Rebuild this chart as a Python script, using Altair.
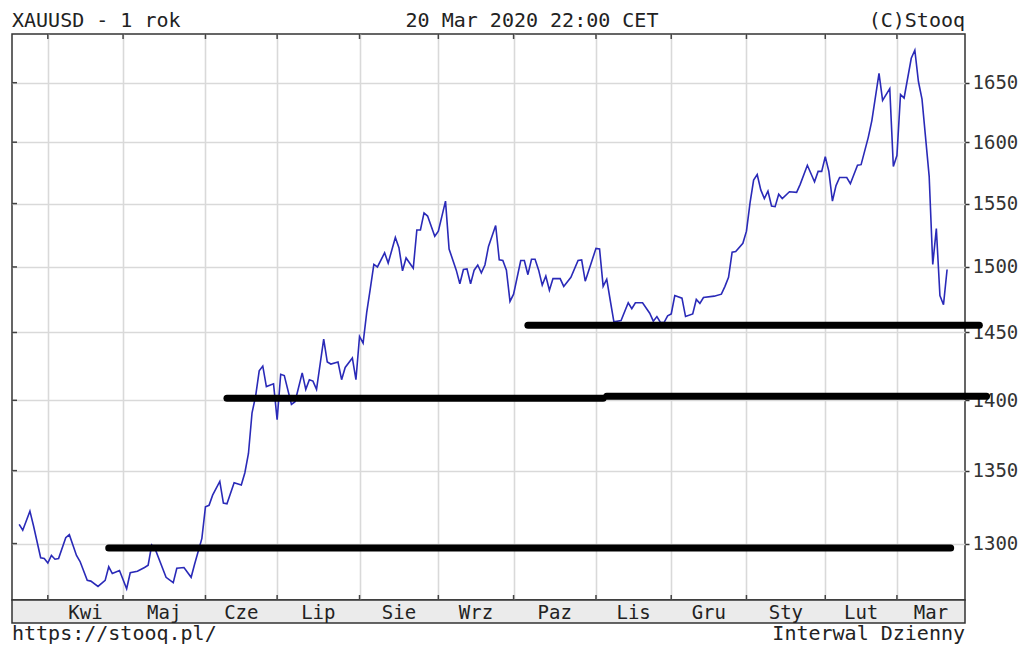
import altair as alt
import pandas as pd
import numpy as np

# ---- data (XAUUSD daily close, vertices of the line) ----
daty = [
    "2019-03-20", "2019-03-21", "2019-03-25", "2019-03-26", "2019-03-28", "2019-03-29",
    "2019-04-01", "2019-04-02", "2019-04-03", "2019-04-04", "2019-04-08", "2019-04-09",
    "2019-04-11", "2019-04-12", "2019-04-16", "2019-04-17", "2019-04-22", "2019-04-24",
    "2019-04-25", "2019-04-26", "2019-04-30",
    "2019-05-02", "2019-05-03", "2019-05-07", "2019-05-09", "2019-05-10", "2019-05-13",
    "2019-05-14", "2019-05-17", "2019-05-21", "2019-05-22", "2019-05-24", "2019-05-28",
    "2019-05-29", "2019-05-31",
    "2019-06-03", "2019-06-04", "2019-06-05", "2019-06-07", "2019-06-10", "2019-06-11",
    "2019-06-13", "2019-06-17", "2019-06-18", "2019-06-19", "2019-06-20", "2019-06-21",
    "2019-06-24", "2019-06-25", "2019-06-26", "2019-06-28",
    "2019-07-01", "2019-07-02", "2019-07-03", "2019-07-05", "2019-07-08", "2019-07-10",
    "2019-07-11", "2019-07-12", "2019-07-15", "2019-07-16", "2019-07-18", "2019-07-19",
    "2019-07-22", "2019-07-24", "2019-07-25", "2019-07-26", "2019-07-30", "2019-07-31",
    "2019-08-01", "2019-08-02", "2019-08-05", "2019-08-06", "2019-08-07", "2019-08-08",
    "2019-08-12", "2019-08-13", "2019-08-15", "2019-08-16", "2019-08-19", "2019-08-20",
    "2019-08-22", "2019-08-23", "2019-08-26", "2019-08-27", "2019-08-28", "2019-08-30",
    "2019-09-02", "2019-09-04", "2019-09-05", "2019-09-09", "2019-09-10", "2019-09-11",
    "2019-09-12", "2019-09-13", "2019-09-16", "2019-09-17", "2019-09-18", "2019-09-19",
    "2019-09-20", "2019-09-24", "2019-09-25", "2019-09-26", "2019-09-27", "2019-09-30",
    "2019-10-01", "2019-10-03", "2019-10-04", "2019-10-07", "2019-10-08", "2019-10-09",
    "2019-10-10", "2019-10-11", "2019-10-14", "2019-10-15", "2019-10-16", "2019-10-18",
    "2019-10-21", "2019-10-23", "2019-10-25", "2019-10-28", "2019-10-29",
    "2019-11-01", "2019-11-04", "2019-11-05", "2019-11-06", "2019-11-07", "2019-11-08",
    "2019-11-12", "2019-11-14", "2019-11-15", "2019-11-18", "2019-11-20", "2019-11-22",
    "2019-11-25", "2019-11-26", "2019-11-27", "2019-11-28", "2019-11-29",
    "2019-12-02", "2019-12-03", "2019-12-05", "2019-12-06", "2019-12-10", "2019-12-11",
    "2019-12-12", "2019-12-13", "2019-12-18", "2019-12-20", "2019-12-23", "2019-12-24",
    "2019-12-26", "2019-12-27", "2019-12-31",
    "2020-01-02", "2020-01-03", "2020-01-06", "2020-01-07", "2020-01-08", "2020-01-09",
    "2020-01-10", "2020-01-13", "2020-01-14", "2020-01-15", "2020-01-16", "2020-01-20",
    "2020-01-22", "2020-01-23", "2020-01-27", "2020-01-29", "2020-01-30", "2020-01-31",
    "2020-02-03", "2020-02-04", "2020-02-05", "2020-02-06", "2020-02-07", "2020-02-11",
    "2020-02-12", "2020-02-14", "2020-02-17", "2020-02-19", "2020-02-20", "2020-02-24",
    "2020-02-25", "2020-02-27", "2020-02-28",
    "2020-03-02", "2020-03-03", "2020-03-04", "2020-03-06", "2020-03-09", "2020-03-10",
    "2020-03-11", "2020-03-13", "2020-03-16", "2020-03-17", "2020-03-18", "2020-03-19",
    "2020-03-20",
]
kurs = [
    1313, 1309, 1322, 1312, 1290.5, 1290,
    1287, 1292, 1289.5, 1290, 1304, 1306,
    1292, 1288, 1275.5, 1275, 1271.5, 1275.5,
    1284.5, 1280, 1282,
    1270, 1280.5, 1281.5, 1284, 1285.5, 1299,
    1296, 1277.5, 1274, 1283.5, 1284, 1277.5,
    1286.5, 1303.5,
    1325, 1326, 1333, 1342.5, 1327.5, 1327,
    1341.5, 1340, 1348.5, 1362, 1391, 1403,
    1421.5, 1425, 1410, 1412,
    1386, 1419, 1418, 1397, 1399, 1420,
    1408, 1415, 1414, 1408, 1445, 1428,
    1426.5, 1428, 1415, 1424, 1431, 1415,
    1447, 1442, 1465, 1483, 1502, 1500,
    1511, 1503, 1523, 1515, 1497, 1507,
    1499, 1529, 1529, 1542.5, 1540, 1524,
    1528, 1552, 1514, 1497.5, 1487, 1498,
    1498.5, 1487, 1497.5, 1501.5, 1495.5, 1501.5,
    1516, 1532.5, 1505.5, 1505, 1497.5, 1473.5,
    1479, 1505, 1505, 1494, 1506, 1506,
    1497.5, 1486, 1493, 1482, 1491, 1491,
    1485, 1492, 1505, 1505.5, 1489,
    1514.5, 1514, 1485, 1490.5, 1474, 1458,
    1459, 1472.5, 1468, 1472.5, 1472.5, 1464.5,
    1458.5, 1462, 1457.5, 1457.5, 1462.5,
    1464, 1478, 1476, 1462, 1464, 1475,
    1472, 1476.5, 1477.5, 1479, 1485, 1492,
    1511.5, 1512, 1518.5,
    1528, 1550.5, 1569, 1573.5, 1561, 1554,
    1560, 1548, 1547.5, 1557.5, 1554, 1559.5,
    1559, 1565.5, 1581, 1567.5, 1576, 1576,
    1588, 1576, 1552, 1564.5, 1571, 1571,
    1566, 1581, 1581.5, 1604, 1618, 1658,
    1635, 1645, 1580,
    1589, 1640, 1637, 1671, 1678, 1651,
    1636, 1572, 1502, 1530, 1478, 1471,
    1498,
]

# days without quotes (trading-day axis)
swieta = ["2019-04-19", "2019-12-25", "2020-01-01"]

# hand-drawn support lines: level, from, to
poziom = [1297, 1401.5, 1403, 1455.5]
linia_od = ["2019-04-25", "2019-06-11", "2019-11-06", "2019-10-07"]
linia_do = ["2020-03-23", "2019-11-05", "2020-04-06", "2020-04-02"]

miesiace = ["Kwi", "Maj", "Cze", "Lip", "Sie", "Wrz", "Paz", "Lis", "Gru", "Sty", "Lut", "Mar"]
poczatki = ["2019-04-01", "2019-05-01", "2019-06-03", "2019-07-01", "2019-08-01", "2019-09-02",
            "2019-10-01", "2019-11-01", "2019-12-02", "2020-01-02", "2020-02-03", "2020-03-02"]
y_ticks = [1300, 1350, 1400, 1450, 1500, 1550, 1600, 1650]
y_zakres = [1262.6, 1692.1]

tytul_lewy = "XAUUSD - 1 rok"
tytul_srodek = "20 Mar 2020 22:00 CET"
tytul_prawy = "(C)Stooq"
stopka_lewa = "https://stooq.pl/"
stopka_prawa = "Interwal Dzienny"

# ---- helpers ----
start = daty[0]


def sesja(lista):
    return np.busday_count(start, np.array(lista, dtype="datetime64[D]"), holidays=swieta)


df = pd.DataFrame({"data": daty, "kurs": kurs})
df["s"] = sesja(daty)

x_lo = -2
x_hi = int(df["s"].max()) + 5

df_lin = pd.DataFrame({"poziom": poziom, "od": sesja(linia_od), "do": sesja(linia_do)})

m_start = sesja(poczatki)
mids = [(m_start[i] + m_start[i + 1]) / 2 for i in range(len(m_start) - 1)]
mids.append((m_start[-1] + x_hi) / 2)
df_m = pd.DataFrame({"nazwa": miesiace, "m": m_start, "mid": mids})
df_y = pd.DataFrame({"v": y_ticks})

W, H = 953, 566
FONT = "DejaVu Sans Mono"
GRID = "#d9d9d9"
DARK = "#333333"

xscale = alt.Scale(domain=[x_lo, x_hi], nice=False, zero=False)
yscale = alt.Scale(type="log", domain=y_zakres, nice=False)

line = alt.Chart(df).mark_line(color="#2a2ab8", strokeWidth=1.6).encode(
    x=alt.X("s:Q", scale=xscale, title=None,
            axis=alt.Axis(values=[int(v) for v in m_start], grid=True, labels=False, ticks=False,
                          domain=False, gridColor=GRID, gridWidth=1.6, title=None)),
    y=alt.Y("kurs:Q", scale=yscale, title=None,
            axis=alt.Axis(orient="right", values=y_ticks, format="d", grid=True, gridColor=GRID,
                          gridWidth=1.6, domain=False, ticks=True, tickColor=DARK, tickSize=4,
                          tickWidth=1.5, labelFont=FONT, labelFontSize=19, labelColor=DARK,
                          labelPadding=3, labelBaseline="middle", title=None)),
)

rules = alt.Chart(df_lin).mark_rule(color="black", strokeWidth=7, strokeCap="round").encode(
    x=alt.X("od:Q", scale=xscale, title=None),
    x2="do:Q",
    y=alt.Y("poziom:Q", scale=yscale, title=None),
)

strip = alt.Chart(pd.DataFrame({"a": [0]})).mark_rect(
    fill="#ebebeb", stroke=DARK, strokeWidth=1.5
).encode(x=alt.value(0), x2=alt.value(W), y=alt.value(H), y2=alt.value(H + 23))

top_ticks = alt.Chart(df_m).mark_rule(color="#444", strokeWidth=1.5).encode(
    x=alt.X("m:Q", scale=xscale, title=None), y=alt.value(0), y2=alt.value(5))
bot_ticks = alt.Chart(df_m).mark_rule(color="#444", strokeWidth=1.5).encode(
    x=alt.X("m:Q", scale=xscale, title=None), y=alt.value(H - 5), y2=alt.value(H))
left_ticks = alt.Chart(df_y).mark_rule(color="#444", strokeWidth=1.5).encode(
    y=alt.Y("v:Q", scale=yscale, title=None), x=alt.value(0), x2=alt.value(5))

month_txt = alt.Chart(df_m).mark_text(font=FONT, fontSize=19, baseline="alphabetic",
                                      color="#222").encode(
    x=alt.X("mid:Q", scale=xscale, title=None), y=alt.value(H + 19), text="nazwa:N")


def txt(s, x, y, align, size=20):
    return alt.Chart(pd.DataFrame({"t": [s]})).mark_text(
        font=FONT, fontSize=size, baseline="alphabetic", align=align, color="#222"
    ).encode(x=alt.value(x), y=alt.value(y), text="t:N")


texts = [
    txt(tytul_lewy, 0, -7, "left"),
    txt(tytul_srodek, 520, -7, "center"),
    txt(tytul_prawy, W, -7, "right"),
    txt(stopka_lewa, 0, H + 40, "left"),
    txt(stopka_prawa, W, H + 40, "right"),
]

chart = alt.layer(
    line, strip, top_ticks, bot_ticks, left_ticks, rules, month_txt, *texts
).properties(
    width=W, height=H,
    autosize=alt.AutoSizeParams(type="none"),
    padding={"left": 4, "top": 26, "right": 54, "bottom": 48},
).configure_view(stroke=DARK, strokeWidth=1.5, fill="white")

chart.save("out.html", embed_options={"renderer": "svg", "actions": False})
